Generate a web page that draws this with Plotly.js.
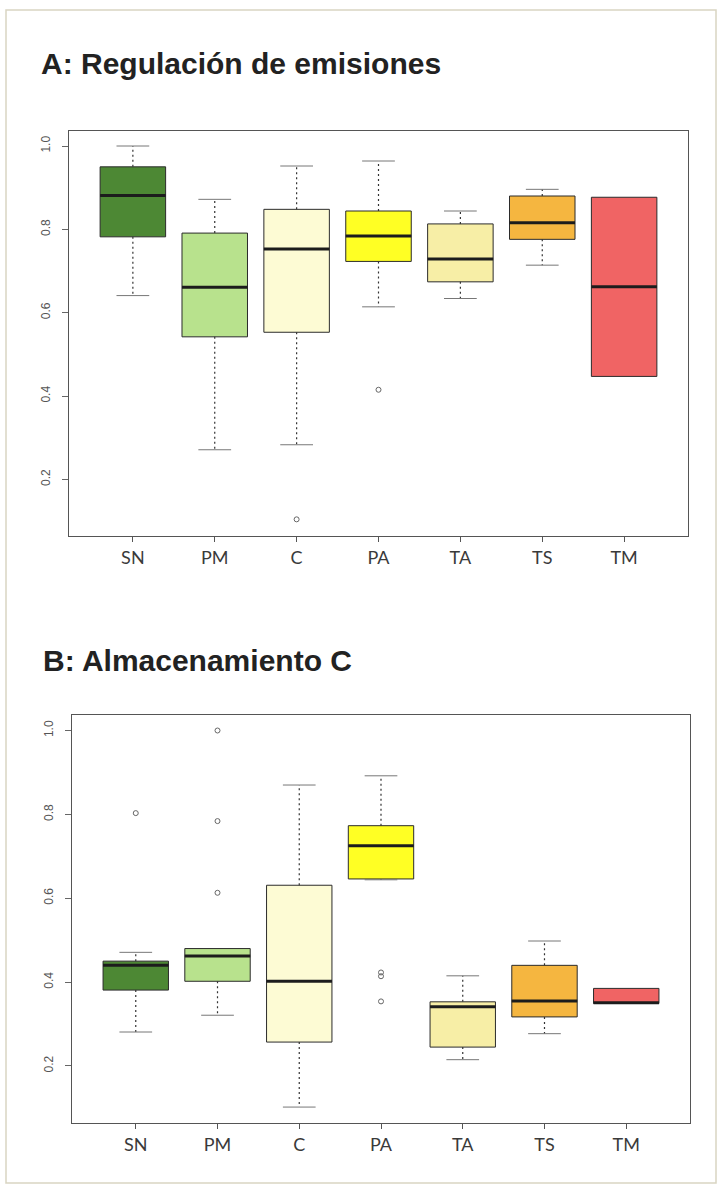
<!DOCTYPE html>
<html>
<head>
<meta charset="utf-8">
<script src="https://cdn.plot.ly/plotly-3.0.1.min.js"></script>
<style>
html,body{margin:0;padding:0;background:#ffffff;}
#chart{width:720px;height:1188px;}
</style>
</head>
<body>
<div id="chart"></div>
<script>
// ---- data ----
const categories = ['SN','PM','C','PA','TA','TS','TM'];
const boxColors = ['#4d8834','#b8e28d','#fdfbd4','#ffff24','#f7eea6','#f5b640','#f06464'];

// A: Regulación de emisiones
const aLowWhisker = [0.641, 0.271, 0.283, 0.614, 0.634, 0.714, 0.447];
const aQ1         = [0.782, 0.542, 0.553, 0.723, 0.674, 0.776, 0.447];
const aMedian     = [0.881, 0.661, 0.753, 0.784, 0.729, 0.816, 0.662];
const aQ3         = [0.950, 0.791, 0.848, 0.844, 0.813, 0.880, 0.877];
const aUpWhisker  = [1.000, 0.872, 0.952, 0.964, 0.844, 0.896, 0.877];
const aOutCat     = ['C','PA'];
const aOutVal     = [0.104, 0.415];

// B: Almacenamiento C
const bLowWhisker = [0.281, 0.321, 0.102, 0.644, 0.215, 0.277, 0.349];
const bQ1         = [0.381, 0.402, 0.257, 0.646, 0.245, 0.317, 0.349];
const bMedian     = [0.440, 0.462, 0.402, 0.725, 0.341, 0.355, 0.351];
const bQ3         = [0.450, 0.480, 0.631, 0.773, 0.353, 0.440, 0.385];
const bUpWhisker  = [0.471, 0.480, 0.870, 0.892, 0.415, 0.498, 0.385];
const bOutCat     = ['SN','PM','PM','PM','PA','PA','PA'];
const bOutVal     = [0.803, 1.000, 0.784, 0.613, 0.423, 0.414, 0.354];

const titles = ['A: Regulación de emisiones', 'B: Almacenamiento C'];

// ---- build ----
const BOXW = 0.8, CAPW = 0.2;
function panel(low, q1, med, q3, up, outCat, outVal, xa, ya) {
  const traces = [];
  categories.forEach((c, i) => {
    traces.push({
      type: 'box', x: [i + 1], q1: [q1[i]], median: [med[i]], q3: [q3[i]],
      lowerfence: [q1[i]], upperfence: [q3[i]], width: BOXW, whiskerwidth: 0,
      boxpoints: false, fillcolor: boxColors[i],
      line: {color: '#2b2b2b', width: 1}, xaxis: xa, yaxis: ya, hoverinfo: 'skip'
    });
  });
  const wx = [], wy = [], cx = [], cy = [], mx = [], my = [];
  categories.forEach((c, i) => {
    const p = i + 1;
    if (up[i] > q3[i]) { wx.push(p, p, null); wy.push(q3[i], up[i], null);
      cx.push(p - CAPW, p + CAPW, null); cy.push(up[i], up[i], null); }
    if (low[i] < q1[i]) { wx.push(p, p, null); wy.push(q1[i], low[i], null);
      cx.push(p - CAPW, p + CAPW, null); cy.push(low[i], low[i], null); }
    mx.push(p - BOXW / 2, p + BOXW / 2, null); my.push(med[i], med[i], null);
  });
  traces.push({type: 'scatter', mode: 'lines', x: wx, y: wy, xaxis: xa, yaxis: ya,
    line: {color: '#333', width: 1.2, dash: '2px,3px'}, hoverinfo: 'skip'});
  traces.push({type: 'scatter', mode: 'lines', x: cx, y: cy, xaxis: xa, yaxis: ya,
    line: {color: '#777', width: 1}, hoverinfo: 'skip'});
  traces.push({type: 'scatter', mode: 'lines', x: mx, y: my, xaxis: xa, yaxis: ya,
    line: {color: '#1c1c1c', width: 3}, hoverinfo: 'skip'});
  traces.push({type: 'scatter', mode: 'markers', x: outCat.map(c => categories.indexOf(c) + 1),
    y: outVal, xaxis: xa, yaxis: ya,
    marker: {symbol: 'circle-open', size: 5, color: '#666', line: {width: 1}}, hoverinfo: 'skip'});
  return traces;
}

const data = [].concat(
  panel(aLowWhisker, aQ1, aMedian, aQ3, aUpWhisker, aOutCat, aOutVal, 'x', 'y'),
  panel(bLowWhisker, bQ1, bMedian, bQ3, bUpWhisker, bOutCat, bOutVal, 'x2', 'y2')
);

const H = 1188, W = 720;
function xAxis(d, anchor) {
  return {domain: d, anchor: anchor, range: [0.22, 7.78], tickmode: 'array',
    tickvals: categories.map((c, i) => i + 1), ticktext: categories,
    showline: true, mirror: true, linecolor: '#555', linewidth: 1,
    ticks: 'outside', ticklen: 5, tickcolor: '#555', showgrid: false, zeroline: false,
    ticklabelstandoff: 0,
    tickfont: {family: 'Lato, Open Sans, sans-serif', size: 18, color: '#3a3a3a'}};
}
function yAxis(d, anchor, r) {
  return {domain: d, anchor: anchor, range: r, tickvals: [0.2, 0.4, 0.6, 0.8, 1.0],
    ticktext: ['0.2', '0.4', '0.6', '0.8', '1.0'], tickangle: -90,
    showline: true, mirror: true, linecolor: '#555', linewidth: 1,
    ticks: 'outside', ticklen: 6, tickcolor: '#666', showgrid: false, zeroline: false,
    ticklabelstandoff: 7,
    tickfont: {family: 'Liberation Sans, Arial, sans-serif', size: 12, color: '#555'}};
}

const layout = {
  width: W, height: H, margin: {l: 0, r: 0, t: 0, b: 0},
  paper_bgcolor: '#ffffff', plot_bgcolor: '#ffffff', showlegend: false,
  hovermode: false, boxmode: 'overlay',
  xaxis: xAxis([69 / W, 688 / W], 'y'),
  yaxis: yAxis([1 - 536 / H, 1 - 131 / H], 'x', [0.064, 1.036]),
  xaxis2: xAxis([72 / W, 690 / W], 'y2'),
  yaxis2: yAxis([1 - 1123 / H, 1 - 715 / H], 'x2', [0.064, 1.037]),
  annotations: [
    {text: '<b>' + titles[0] + '</b>', xref: 'paper', yref: 'paper', x: 39 / W, y: 1 - 45 / H,
     xanchor: 'left', yanchor: 'top', showarrow: false,
     font: {family: 'Liberation Sans, Arial, sans-serif', size: 30, color: '#222'}},
    {text: '<b>' + titles[1] + '</b>', xref: 'paper', yref: 'paper', x: 41 / W, y: 1 - 642 / H,
     xanchor: 'left', yanchor: 'top', showarrow: false,
     font: {family: 'Liberation Sans, Arial, sans-serif', size: 30, color: '#222'}}
  ],
  shapes: [
    {type: 'rect', xref: 'paper', yref: 'paper', x0: 6 / W, x1: 716 / W, y0: 1 - 1183 / H, y1: 1 - 10 / H,
     line: {color: '#d9d5c2', width: 1.5}, layer: 'below'}
  ]
};

Plotly.newPlot('chart', data, layout, {staticPlot: true, displayModeBar: false});
</script>
</body>
</html>
